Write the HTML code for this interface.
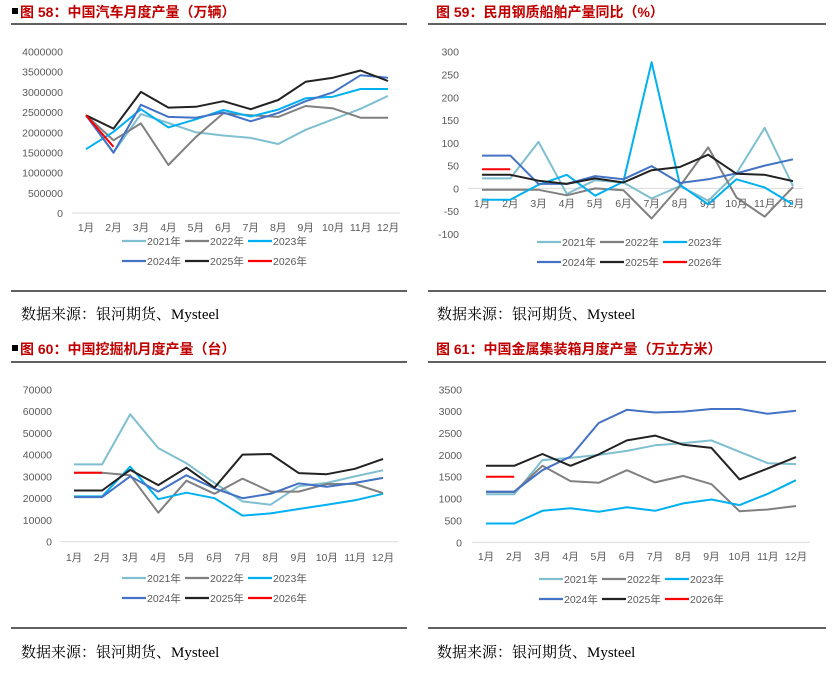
<!DOCTYPE html>
<html><head><meta charset="utf-8"><style>
html,body{margin:0;padding:0;background:#fff;}
body{width:835px;height:672px;overflow:hidden;font-family:"Liberation Sans","Noto Sans CJK SC",sans-serif;}
</style></head><body>
<svg id="page" width="835" height="672" xmlns="http://www.w3.org/2000/svg" font-family="'Liberation Sans','Noto Sans CJK SC',sans-serif">
<g>
<rect x="12" y="8" width="6" height="6" fill="#000"/>
<text x="20" y="17" font-size="14" font-weight="bold" fill="#c00000">图 58：中国汽车月度产量（万辆）</text>
<line x1="11" y1="24" x2="407" y2="24" stroke="#000" stroke-width="1.3"/>
</g>
<g>
<text x="436" y="17" font-size="14" font-weight="bold" fill="#c00000">图 59：民用钢质船舶产量同比（%）</text>
<line x1="428" y1="24" x2="826" y2="24" stroke="#000" stroke-width="1.3"/>
</g>
<g>
<rect x="12" y="345" width="6" height="6" fill="#000"/>
<text x="20" y="354" font-size="14" font-weight="bold" fill="#c00000">图 60：中国挖掘机月度产量（台）</text>
<line x1="11" y1="362" x2="407" y2="362" stroke="#000" stroke-width="1.3"/>
</g>
<g>
<text x="436" y="354" font-size="14" font-weight="bold" fill="#c00000">图 61：中国金属集装箱月度产量（万立方米）</text>
<line x1="428" y1="362" x2="826" y2="362" stroke="#000" stroke-width="1.3"/>
</g>
<g>
<line x1="11" y1="291" x2="407" y2="291" stroke="#000" stroke-width="1.3"/>
<text x="21" y="319" font-size="15" font-family="'Liberation Serif','Noto Serif CJK SC',serif" fill="#000">数据来源：银河期货、Mysteel</text>
</g>
<g>
<line x1="428" y1="291" x2="826" y2="291" stroke="#000" stroke-width="1.3"/>
<text x="437" y="319" font-size="15" font-family="'Liberation Serif','Noto Serif CJK SC',serif" fill="#000">数据来源：银河期货、Mysteel</text>
</g>
<g>
<line x1="11" y1="628" x2="407" y2="628" stroke="#000" stroke-width="1.3"/>
<text x="21" y="657" font-size="15" font-family="'Liberation Serif','Noto Serif CJK SC',serif" fill="#000">数据来源：银河期货、Mysteel</text>
</g>
<g>
<line x1="428" y1="628" x2="826" y2="628" stroke="#000" stroke-width="1.3"/>
<text x="437" y="657" font-size="15" font-family="'Liberation Serif','Noto Serif CJK SC',serif" fill="#000">数据来源：银河期货、Mysteel</text>
</g>
</svg>
<script>
const months = ["1月","2月","3月","4月","5月","6月","7月","8月","9月","10月","11月","12月"];
const seriesNames = ["2021年","2022年","2023年","2024年","2025年","2026年"];
const seriesColors = ["#7fbfd0","#808080","#00b0f0","#4472c4","#222222","#ff0000"];

const carTicks = [0,500000,1000000,1500000,2000000,2500000,3000000,3500000,4000000];
const car2021 = [2420000,1500000,2450000,2230000,2000000,1920000,1860000,1710000,2060000,2320000,2580000,2900000];
const car2022 = [2420000,1800000,2220000,1190000,1880000,2470000,2420000,2380000,2650000,2590000,2360000,2360000];
const car2023 = [1580000,2010000,2570000,2120000,2320000,2550000,2390000,2560000,2840000,2880000,3070000,3070000];
const car2024 = [2420000,1490000,2680000,2380000,2360000,2490000,2270000,2480000,2770000,2990000,3410000,3350000];
const car2025 = [2420000,2090000,3000000,2610000,2630000,2770000,2570000,2800000,3250000,3350000,3530000,3270000];
const car2026 = [2420000,1640000];

const shipTicks = [-100,-50,0,50,100,150,200,250,300];
const ship2021 = [22,22,102,-12,18,13,-22,5,-27,33,133,5];
const ship2022 = [-3,-3,-3,-15,0,-4,-66,5,90,-20,-62,3];
const ship2023 = [-25,-25,8,30,-16,15,277,8,-35,20,2,-35];
const ship2024 = [72,72,10,10,27,20,49,12,20,33,50,64];
const ship2025 = [30,30,17,10,22,13,40,47,74,32,30,16];
const ship2026 = [42,42];

const excTicks = [0,10000,20000,30000,40000,50000,60000,70000];
const exc2021 = [35500,35500,58500,43000,36000,27000,18500,17000,25500,27000,30000,32800];
const exc2022 = [31700,31700,30500,13300,28000,22000,29000,23000,23000,26500,26500,22300];
const exc2023 = [20800,20800,34500,19500,22500,20000,12000,13000,15000,17000,19000,22000];
const exc2024 = [20500,20500,30000,23000,30500,24500,20000,22000,26800,25200,27000,29300];
const exc2025 = [23500,23500,33000,26000,34000,24800,40000,40300,31500,31000,33500,38000];
const exc2026 = [31700,31700];

const boxTicks = [0,500,1000,1500,2000,2500,3000,3500];
const box2021 = [1100,1100,1880,1930,2000,2090,2220,2270,2330,2070,1810,1790];
const box2022 = [1150,1150,1750,1400,1360,1650,1370,1520,1330,710,750,830];
const box2023 = [430,430,720,780,700,800,720,890,980,850,1110,1420];
const box2024 = [1160,1160,1650,1960,2730,3030,2970,2990,3050,3050,2940,3010];
const box2025 = [1750,1750,2020,1750,2010,2330,2440,2230,2160,1440,1690,1950];
const box2026 = [1500,1500];

const NS = "http://www.w3.org/2000/svg";
const svg = document.getElementById("page");
function mk(tag, attrs, parent){
  const e = document.createElementNS(NS, tag);
  for (const k in attrs) e.setAttribute(k, attrs[k]);
  parent.appendChild(e);
  return e;
}
function drawChart(cfg){
  const g = mk("g", {}, svg);
  
  
  const tMin = cfg.ticks[0], tMax = cfg.ticks[cfg.ticks.length-1];
  const yS = v => cfg.yBot - (v - tMin) / (tMax - tMin) * (cfg.yBot - cfg.yTop);
  const xS = i => cfg.x1 + i * (cfg.x12 - cfg.x1) / 11;
  cfg.ticks.forEach(t => {
    const tx = mk("text", {x: cfg.labelX, y: yS(t) + 4, "font-size": 10.5, fill: "#595959", "text-anchor": "end"}, g);
    tx.textContent = t;
    
    
  });
  const zl = mk("line", {x1: cfg.axL, x2: cfg.axR, y1: yS(0), y2: yS(0), stroke: "#d9d9d9", "stroke-width": 1}, g);
  
  
  months.forEach((m, i) => {
    const tx = mk("text", {x: xS(i), y: cfg.monthY, "font-size": 10.5, fill: "#595959", "text-anchor": "middle"}, g);
    tx.textContent = m;
    
    
  });
  cfg.series.forEach((s, k) => {
    const pts = s.map((v, i) => xS(i).toFixed(1) + "," + yS(v).toFixed(1)).join(" ");
    const pl = mk("polyline", {points: pts, fill: "none", stroke: seriesColors[k], "stroke-width": 2, "stroke-linejoin": "round"}, g);
    
    
  });
  seriesNames.forEach((n, k) => {
    const col = k % 3, row = Math.floor(k / 3);
    const lx = cfg.legX + col * 63, ly = cfg.legY + row * 20;
    const le = mk("g", {}, g);
    
    
    mk("line", {x1: lx, x2: lx + 24, y1: ly, y2: ly, stroke: seriesColors[k], "stroke-width": 2.2}, le);
    const tx = mk("text", {x: lx + 25, y: ly + 4, "font-size": 10.5, fill: "#595959"}, le);
    tx.textContent = n;
  });
}
drawChart({name:"chart-car-production", ticks: carTicks, series:[car2021,car2022,car2023,car2024,car2025,car2026],
  yTop:51.5, yBot:213, x1:86, x12:388, axL:72, axR:400, labelX:63, monthY:231, legX:122, legY:241});
drawChart({name:"chart-ship-production-yoy", ticks: shipTicks, series:[ship2021,ship2022,ship2023,ship2024,ship2025,ship2026],
  yTop:51.7, yBot:234, x1:482, x12:793, axL:468, axR:803, labelX:459, monthY:207, legX:537, legY:242});
drawChart({name:"chart-excavator-production", ticks: excTicks, series:[exc2021,exc2022,exc2023,exc2024,exc2025,exc2026],
  yTop:389.3, yBot:541.7, x1:74, x12:383, axL:60, axR:398, labelX:52, monthY:561, legX:122, legY:578});
drawChart({name:"chart-container-production", ticks: boxTicks, series:[box2021,box2022,box2023,box2024,box2025,box2026],
  yTop:389.3, yBot:542.3, x1:486, x12:796, axL:472, axR:810, labelX:462, monthY:560, legX:539, legY:579});
</script>
</body></html>
